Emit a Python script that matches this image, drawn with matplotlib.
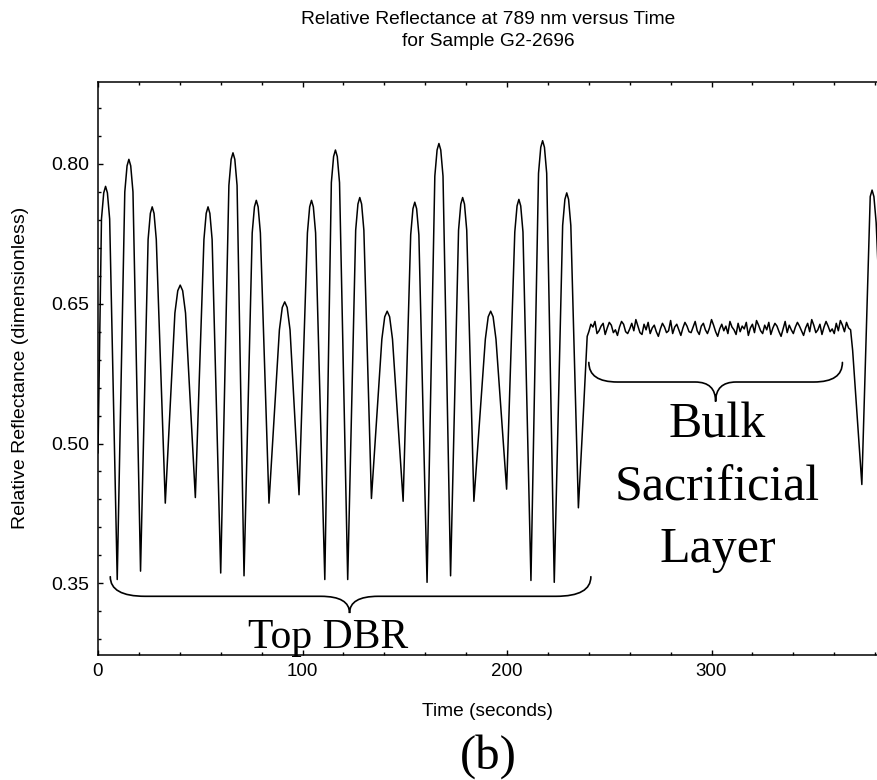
import numpy as np
import matplotlib
matplotlib.use("Agg")
import matplotlib.pyplot as plt
from matplotlib.path import Path
from matplotlib.patches import PathPatch
from matplotlib.ticker import MultipleLocator, FixedLocator

# ---- data ---------------------------------------------------------------
# Top DBR growth: oscillations (seconds, relative reflectance)
dbr_t = [0.0,
         1.7, 2.8, 3.7, 4.6, 5.7, 9.4,
         13.1, 14.2, 15.1, 16.0, 17.1, 20.8,
         24.5, 25.6, 26.5, 27.4, 28.5, 32.9,
         37.6, 39.0, 40.2, 41.4, 42.8, 47.6,
         51.8, 52.9, 53.8, 54.7, 55.8, 60.0,
         64.0, 65.1, 66.0, 66.9, 68.0, 71.4,
         75.4, 76.5, 77.4, 78.3, 79.4, 83.6,
         88.7, 90.1, 91.3, 92.5, 93.9, 98.3,
         102.4, 103.5, 104.4, 105.3, 106.4, 110.9,
         114.1, 115.2, 116.1, 117.0, 118.1, 122.1,
         126.0, 127.1, 128.0, 128.9, 130.0, 133.7,
         138.8, 140.2, 141.4, 142.6, 144.0, 149.2,
         152.9, 154.0, 154.9, 155.8, 156.9, 160.9,
         164.7, 165.8, 166.7, 167.6, 168.7, 172.4,
         176.3, 177.4, 178.3, 179.2, 180.3, 183.8,
         189.4, 190.8, 192.0, 193.2, 194.6, 199.8,
         203.8, 204.9, 205.8, 206.7, 207.8, 211.7,
         215.4, 216.5, 217.4, 218.3, 219.4, 223.1,
         227.2, 228.3, 229.2, 230.1, 231.2, 234.9,
         237.5, 239.2]
dbr_r = [0.490,
         0.741, 0.769, 0.776, 0.769, 0.741, 0.354,
         0.770, 0.798, 0.805, 0.798, 0.770, 0.363,
         0.719, 0.747, 0.754, 0.747, 0.719, 0.436,
         0.640, 0.664, 0.670, 0.664, 0.640, 0.442,
         0.719, 0.747, 0.754, 0.747, 0.719, 0.361,
         0.777, 0.805, 0.812, 0.805, 0.777, 0.358,
         0.726, 0.754, 0.761, 0.754, 0.726, 0.436,
         0.622, 0.646, 0.652, 0.646, 0.622, 0.445,
         0.726, 0.754, 0.761, 0.754, 0.726, 0.354,
         0.780, 0.808, 0.815, 0.808, 0.780, 0.354,
         0.729, 0.757, 0.764, 0.757, 0.729, 0.441,
         0.612, 0.636, 0.642, 0.636, 0.612, 0.438,
         0.724, 0.752, 0.759, 0.752, 0.724, 0.351,
         0.787, 0.815, 0.822, 0.815, 0.787, 0.358,
         0.729, 0.757, 0.764, 0.757, 0.729, 0.438,
         0.612, 0.636, 0.642, 0.636, 0.612, 0.451,
         0.727, 0.755, 0.762, 0.755, 0.727, 0.353,
         0.790, 0.818, 0.825, 0.818, 0.790, 0.351,
         0.734, 0.762, 0.769, 0.762, 0.734, 0.431,
         0.540, 0.615]

# Bulk sacrificial layer: flat, noisy reflectance sampled once per second
bulk_t = list(range(240, 368))
bulk_r = [0.620, 0.628, 0.625, 0.631, 0.618, 0.621, 0.626, 0.629, 0.617, 0.624,
          0.630, 0.627, 0.619, 0.622, 0.616, 0.625, 0.631, 0.628, 0.620, 0.618,
          0.623, 0.629, 0.621, 0.633, 0.626, 0.619, 0.617, 0.628, 0.622, 0.630,
          0.618, 0.624, 0.627, 0.620, 0.615, 0.623, 0.629, 0.625, 0.619, 0.621,
          0.632, 0.618, 0.625, 0.628, 0.622, 0.616, 0.624, 0.630, 0.626, 0.620,
          0.619, 0.625, 0.631, 0.621, 0.617, 0.626, 0.629, 0.622, 0.618, 0.624,
          0.633, 0.627, 0.620, 0.615, 0.623, 0.628, 0.621, 0.626, 0.618, 0.631,
          0.625, 0.622, 0.617, 0.629, 0.620, 0.626, 0.623, 0.630, 0.616, 0.624,
          0.628, 0.619, 0.632, 0.627, 0.621, 0.618, 0.627, 0.622, 0.630, 0.617,
          0.624, 0.629, 0.626, 0.620, 0.615, 0.623, 0.631, 0.619, 0.627, 0.622,
          0.618, 0.625, 0.630, 0.626, 0.621, 0.616, 0.624, 0.629, 0.620, 0.633,
          0.627, 0.619, 0.622, 0.628, 0.617, 0.625, 0.631, 0.626, 0.620, 0.623,
          0.618, 0.629, 0.621, 0.632, 0.627, 0.620, 0.630, 0.624]

# Start of the next layer after the sacrificial layer
tail_t = [368.0, 369.0, 373.5, 377.6, 378.5, 379.4, 380.5, 382.0]
tail_r = [0.622, 0.600, 0.456, 0.765, 0.772, 0.765, 0.737, 0.660]

y_ticks = [0.35, 0.50, 0.65, 0.80]
x_ticks = [0, 100, 200, 300]

# Braces: (start, end, tip position, end height, bar height, tip height)
dbr_brace = (6.0, 241.0, 123.0, 0.357, 0.336, 0.318)
bulk_brace = (240.0, 364.0, 302.0, 0.587, 0.566, 0.545)

# ---- figure -------------------------------------------------------------
plt.rcParams['font.family'] = ['Liberation Sans', 'DejaVu Sans']
fig = plt.figure(figsize=(8.78, 7.80), dpi=100)
W, H = 878, 780
ax = fig.add_axes([98 / W, 1 - 655 / H, 1 - 98 / W, (655 - 82) / H])

t_all = dbr_t + bulk_t + tail_t
r_all = dbr_r + bulk_r + tail_r
ax.plot(t_all, r_all, color='black', lw=1.1, solid_joinstyle='round')

ax.set_xlim(0, 381.4)
ax.set_ylim(0.273, 0.888)

ax.xaxis.set_major_locator(FixedLocator(x_ticks))
ax.xaxis.set_minor_locator(MultipleLocator(20))
ax.yaxis.set_major_locator(FixedLocator(y_ticks))
ax.yaxis.set_minor_locator(FixedLocator([0.29 + 0.03 * i for i in range(20)]))
ax.set_xticklabels([str(v) for v in x_ticks])
ax.set_yticklabels([f"{v:.2f}" for v in y_ticks])

ax.spines['right'].set_visible(False)
for s in ('left', 'bottom', 'top'):
    ax.spines[s].set_linewidth(1.1)
ax.tick_params(which='both', direction='in', top=True, right=False, width=1.0)
ax.tick_params(which='major', length=3.5)
ax.tick_params(which='minor', length=2.5)
ax.tick_params(axis='x', which='major', pad=6, labelsize=13.5)
ax.tick_params(axis='y', which='major', pad=6, labelsize=14)


def brace(spec, r_end, r_tip):
    x0, x1, xm, y_end, y_bar, y_tip = spec
    verts = [(x0, y_end), (x0, y_bar), (x0 + r_end, y_bar),
             (xm - r_tip, y_bar), (xm, y_bar), (xm, y_tip),
             (xm, y_bar), (xm + r_tip, y_bar),
             (x1 - r_end, y_bar), (x1, y_bar), (x1, y_end)]
    codes = [Path.MOVETO, Path.CURVE3, Path.CURVE3,
             Path.LINETO, Path.CURVE3, Path.CURVE3,
             Path.CURVE3, Path.CURVE3,
             Path.LINETO, Path.CURVE3, Path.CURVE3]
    ax.add_patch(PathPatch(Path(verts, codes), fill=False, lw=1.2,
                           edgecolor='black', capstyle='round'))


brace(dbr_brace, 17, 14)
brace(bulk_brace, 14, 10)

serif = ['Liberation Serif', 'DejaVu Serif']
ax.text(112.7, 0.281, "Top DBR", family=serif, fontsize=30,
        ha='center', va='baseline')
for word, base in (("Bulk", 0.506), ("Sacrificial", 0.439), ("Layer", 0.373)):
    ax.text(303, base, word, family=serif, fontsize=36,
            ha='center', va='baseline')

cx = (98 + W) / 2 / W
fig.text(cx, 1 - 20 / H, "Relative Reflectance at 789 nm versus Time",
         ha='center', va='center', fontsize=13.8)
fig.text(cx, 1 - 42 / H, "for Sample G2-2696",
         ha='center', va='center', fontsize=13.8)
fig.text(cx, 1 - 712 / H, "Time (seconds)", ha='center', va='center',
         fontsize=13.8)
fig.text(21 / W, 1 - 368 / H, "Relative Reflectance (dimensionless)",
         ha='center', va='center', rotation=90, fontsize=14)
fig.text(cx, 1 - 757 / H, "(b)", ha='center', va='center',
         fontsize=35, family=serif)

fig.savefig("out.png", dpi=100)
